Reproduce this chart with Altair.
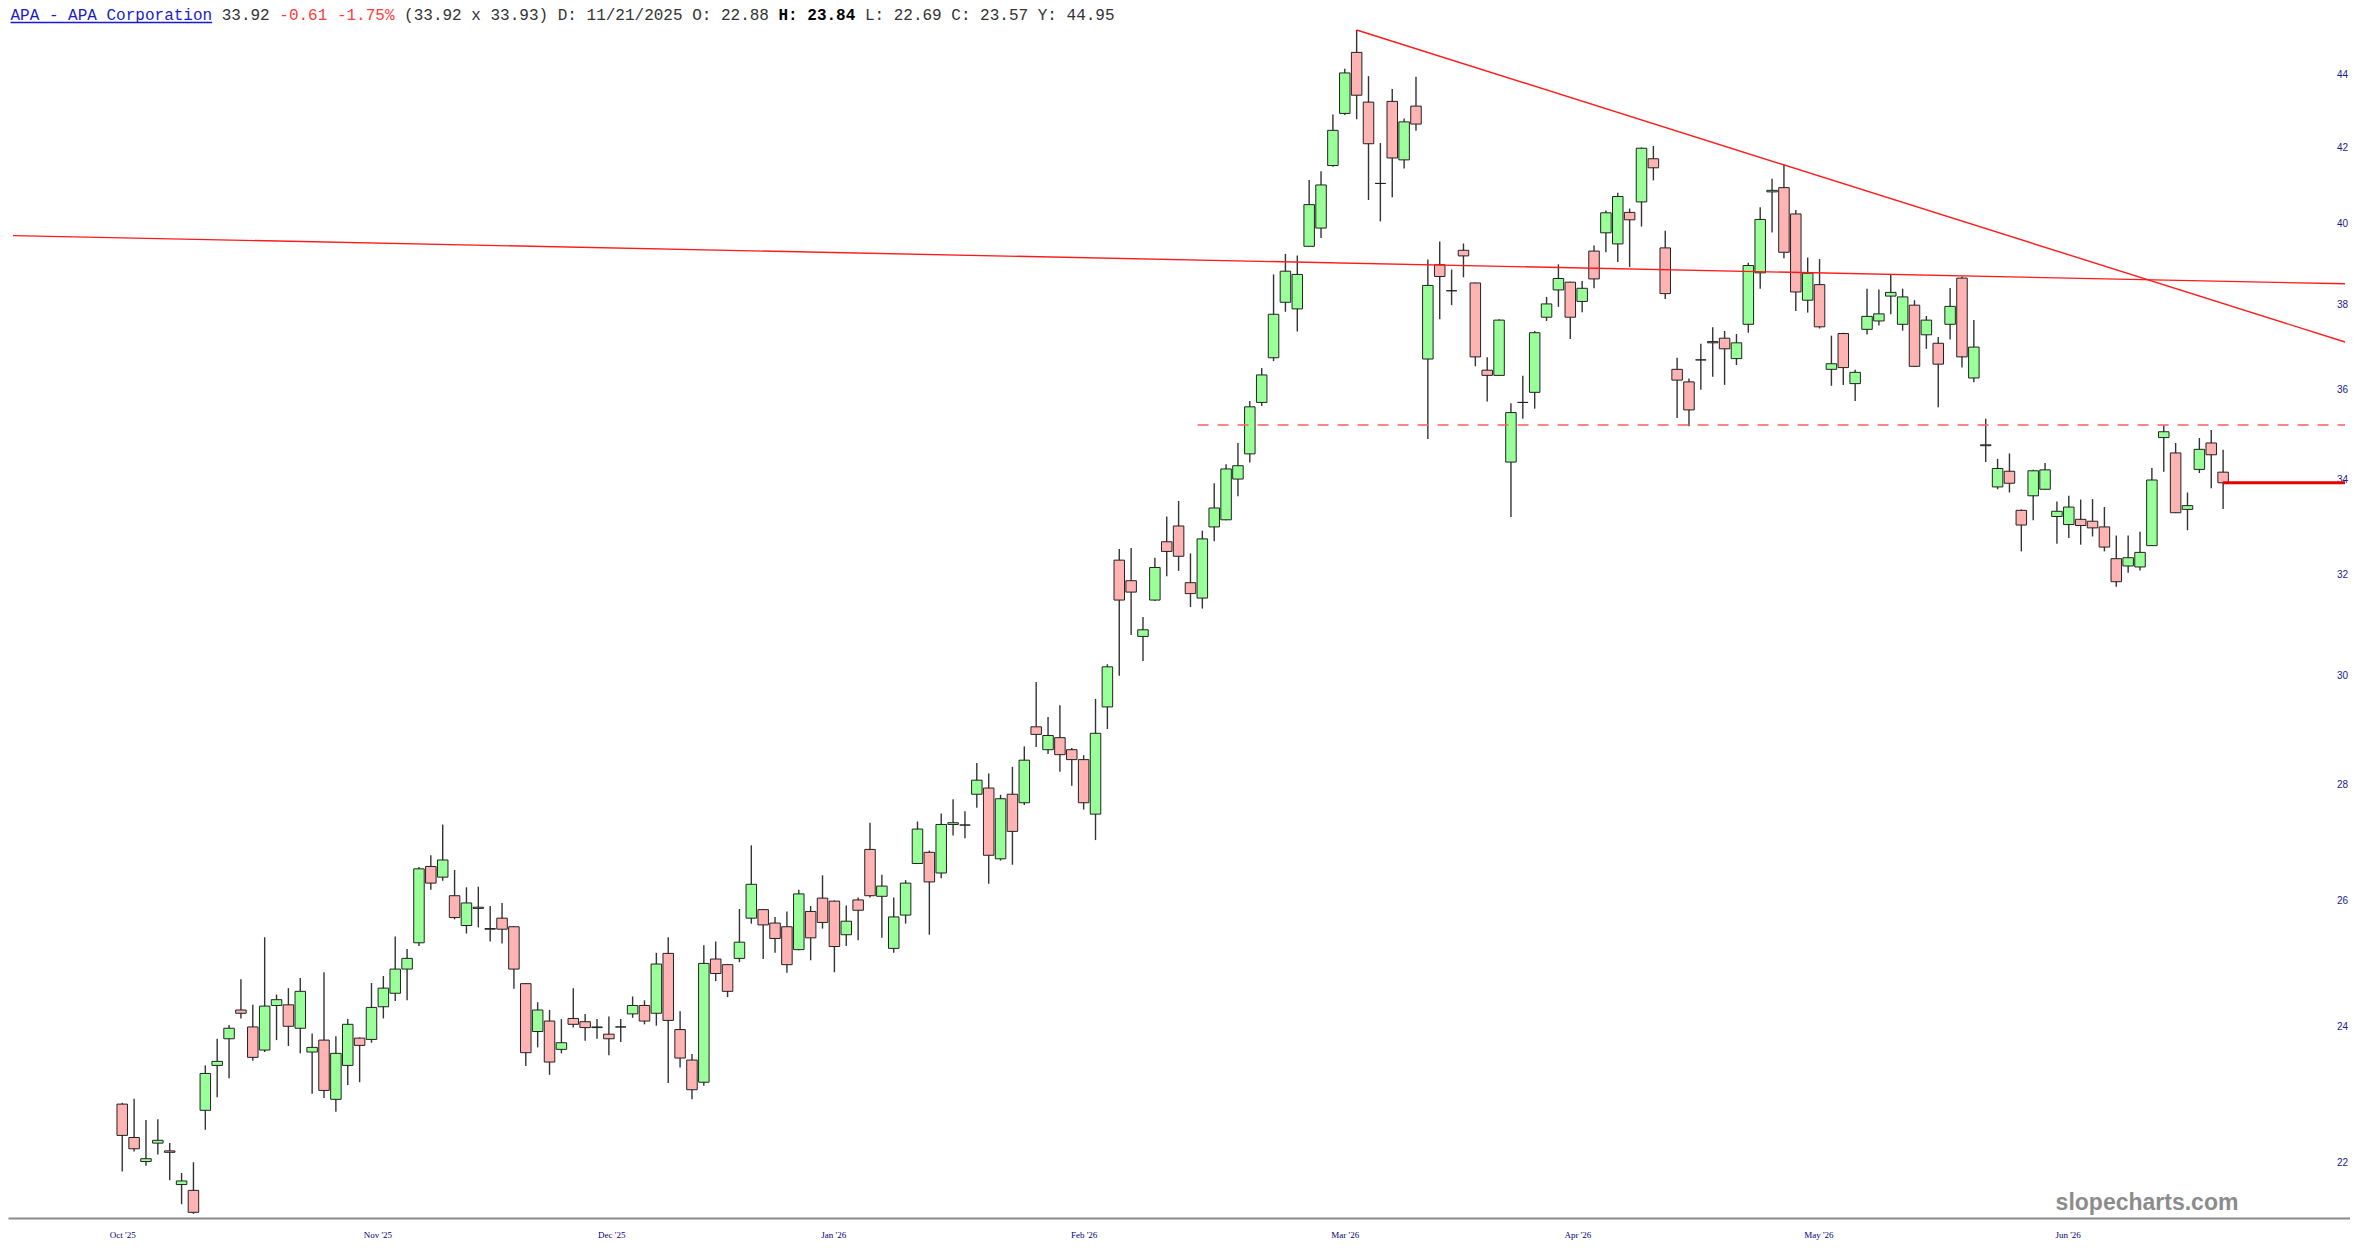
import altair as alt
import pandas as pd

# ---------------- data ----------------
opens = [22.84, 22.36, 22.02, 22.28, 22.17, 21.70, 21.62, 22.75, 23.41, 23.81,
         24.25, 23.99, 23.64, 24.32, 24.33, 23.97, 23.61, 23.79, 22.91, 23.41,
         23.82, 23.80, 24.30, 24.51, 24.89, 25.31, 26.57, 26.39, 26.08, 25.59,
         25.87, 25.53, 25.71, 25.57, 24.66, 23.92, 24.08, 23.65, 24.12, 24.07,
         23.99, 23.88, 23.99, 24.19, 24.32, 24.20, 25.14, 23.95, 23.49, 23.16,
         25.05, 24.96, 25.06, 25.71, 25.85, 25.63, 25.57, 25.20, 25.82, 26.04,
         25.99, 25.44, 26.01, 26.86, 26.07, 25.22, 25.76, 26.62, 26.81, 26.46,
         27.29, 27.28, 27.82, 27.93, 26.70, 27.82, 27.67, 29.04, 28.62, 28.84,
         28.62, 28.44, 27.47, 29.41, 32.29, 31.87, 30.76, 31.48, 32.67, 33.00,
         31.83, 31.52, 32.98, 33.13, 34.00, 34.55, 35.70, 36.73, 38.05, 37.89,
         39.43, 39.89, 41.51, 42.91, 44.61, 43.22, 41.04, 43.24, 41.66, 43.11,
         36.70, 38.97, 38.33, 39.33, 38.52, 36.44, 36.32, 34.37, 35.70, 35.93,
         37.69, 38.35, 38.54, 38.07, 39.31, 39.77, 39.49, 40.29, 40.56, 41.69,
         39.39, 36.46, 36.17, 36.68, 37.11, 37.19, 36.71, 37.52, 38.77, 40.82,
         40.93, 40.25, 38.10, 38.48, 36.46, 37.30, 36.13, 37.40, 37.60, 38.20,
         37.52, 37.98, 37.27, 37.07, 37.52, 38.64, 36.26, 34.73, 33.83, 34.17,
         33.33, 33.64, 33.78, 33.20, 33.03, 33.14, 33.10, 32.98, 32.32, 32.17,
         32.15, 32.59, 34.91, 34.57, 33.35, 34.21, 34.79, 34.15]
highs = [22.86, 22.92, 22.61, 22.62, 22.28, 21.86, 22.01, 23.41, 23.81, 24.02,
         24.73, 24.33, 25.40, 24.49, 24.59, 24.75, 23.89, 24.84, 23.85, 24.11,
         23.83, 24.67, 24.78, 25.41, 25.21, 26.56, 26.76, 27.29, 26.51, 26.22,
         26.23, 25.91, 25.96, 25.58, 24.67, 24.37, 24.25, 24.11, 24.59, 24.19,
         24.11, 24.15, 24.11, 24.46, 24.40, 25.15, 25.40, 24.23, 23.58, 25.27,
         25.33, 24.97, 25.86, 26.93, 25.86, 25.73, 25.82, 26.18, 25.91, 26.42,
         26.00, 25.92, 26.05, 27.32, 26.43, 26.05, 26.34, 27.34, 26.84, 27.48,
         27.73, 27.52, 28.38, 28.19, 27.81, 28.31, 28.68, 29.88, 29.22, 29.44,
         28.65, 28.52, 29.56, 30.22, 32.52, 32.54, 31.14, 32.34, 33.20, 33.53,
         32.43, 32.90, 33.91, 34.32, 34.79, 35.73, 36.49, 38.73, 39.24, 39.20,
         41.13, 41.36, 42.88, 44.15, 45.25, 43.94, 42.11, 43.58, 42.77, 43.92,
         39.10, 39.55, 38.85, 39.50, 38.53, 36.74, 37.64, 35.68, 36.31, 37.36,
         38.18, 38.98, 38.55, 38.57, 39.45, 40.34, 40.80, 40.39, 41.99, 42.03,
         39.82, 36.73, 36.25, 37.06, 37.45, 37.36, 37.29, 39.02, 40.42, 41.16,
         41.54, 40.35, 39.15, 39.11, 37.25, 37.32, 36.45, 38.38, 38.36, 38.74,
         38.38, 38.10, 37.72, 37.22, 38.40, 38.68, 37.62, 35.33, 34.44, 34.56,
         33.35, 34.20, 34.35, 33.52, 33.64, 33.56, 33.57, 33.40, 32.80, 32.80,
         32.88, 34.24, 35.18, 34.79, 33.71, 34.90, 35.08, 34.64]
lows = [21.88, 22.16, 21.96, 22.12, 21.76, 21.43, 21.30, 22.47, 22.94, 23.22,
        24.12, 23.48, 23.61, 23.79, 23.70, 23.59, 22.99, 22.93, 22.73, 23.12,
        23.16, 23.75, 24.12, 24.39, 24.40, 25.26, 26.18, 26.33, 25.69, 25.46,
        25.56, 25.33, 25.30, 24.58, 23.40, 23.68, 23.27, 23.59, 23.98, 23.78,
        23.81, 23.56, 23.76, 24.13, 24.03, 24.01, 23.15, 23.38, 22.91, 23.11,
        24.70, 24.45, 25.00, 25.62, 25.05, 25.15, 24.83, 25.19, 25.03, 25.54,
        24.84, 25.26, 25.35, 26.05, 25.39, 25.15, 25.62, 26.61, 25.44, 26.37,
        27.10, 27.05, 27.58, 26.28, 26.67, 26.60, 27.63, 28.67, 28.54, 28.22,
        27.97, 27.55, 27.02, 29.00, 30.00, 30.79, 30.28, 31.46, 31.96, 32.07,
        31.34, 31.31, 32.68, 33.12, 33.63, 34.36, 35.62, 36.65, 37.82, 37.35,
        39.42, 39.64, 41.48, 42.87, 42.75, 40.61, 40.06, 40.68, 41.43, 42.44,
        34.88, 37.64, 37.98, 38.66, 36.53, 35.72, 36.31, 33.19, 35.33, 35.56,
        37.60, 37.94, 37.17, 37.81, 38.39, 39.28, 39.04, 38.91, 39.93, 41.12,
        38.13, 35.35, 35.16, 35.99, 36.29, 36.10, 36.56, 37.32, 38.38, 39.78,
        39.13, 37.84, 37.80, 37.42, 36.08, 36.10, 35.73, 37.28, 37.49, 37.76,
        37.37, 36.52, 36.94, 35.59, 37.16, 36.50, 36.16, 34.37, 33.78, 33.71,
        32.47, 33.12, 33.77, 32.63, 32.75, 32.61, 32.78, 32.47, 31.75, 32.03,
        32.08, 32.58, 34.16, 33.27, 32.91, 34.13, 33.80, 33.36]
closes = [22.39, 22.20, 22.06, 22.32, 22.15, 21.75, 21.32, 23.29, 23.47, 23.97,
          24.20, 23.53, 24.31, 24.41, 24.00, 24.54, 23.68, 23.04, 23.59, 24.03,
          23.71, 24.29, 24.59, 24.89, 25.06, 26.53, 26.29, 26.68, 25.72, 25.96,
          25.89, 25.54, 25.53, 24.89, 23.60, 24.25, 23.46, 23.75, 24.03, 23.98,
          23.98, 23.81, 23.99, 24.32, 24.08, 24.97, 24.09, 23.52, 23.05, 24.98,
          24.82, 24.54, 25.32, 26.27, 25.60, 25.38, 24.96, 26.11, 25.39, 25.64,
          25.25, 25.66, 25.84, 26.08, 26.24, 25.73, 26.29, 27.21, 26.31, 27.29,
          27.32, 27.28, 28.07, 26.76, 27.74, 27.17, 28.43, 28.90, 28.88, 28.53,
          28.44, 27.67, 28.92, 30.17, 31.48, 31.64, 30.89, 32.14, 32.47, 32.37,
          31.61, 32.73, 33.38, 34.22, 34.29, 35.60, 36.33, 37.76, 38.81, 38.73,
          40.49, 41.00, 42.45, 44.03, 43.41, 42.09, 41.04, 41.71, 42.68, 42.62,
          38.46, 38.68, 38.33, 39.19, 36.75, 36.32, 37.62, 35.47, 35.70, 37.32,
          38.01, 38.63, 37.69, 38.39, 38.62, 40.28, 40.70, 40.10, 41.97, 41.45,
          38.26, 36.21, 35.53, 36.68, 37.08, 36.94, 37.08, 38.95, 40.11, 40.86,
          39.28, 38.30, 38.76, 37.46, 36.59, 36.50, 36.39, 37.71, 37.77, 38.29,
          38.18, 36.53, 37.62, 36.58, 37.95, 36.75, 36.98, 34.75, 34.23, 33.91,
          33.02, 34.18, 34.20, 33.31, 33.40, 33.01, 32.96, 32.56, 31.85, 32.34,
          32.45, 33.98, 35.04, 33.28, 33.43, 34.65, 34.53, 33.92]

month_ticks = [0, 21.5, 41.2, 59.9, 81.0, 103.0, 122.6, 142.9, 163.9]
month_labels = ["Oct '25", "Nov '25", "Dec '25", "Jan '26", "Feb '26",
                "Mar '26", "Apr '26", "May '26", "Jun '26"]
price_ticks = [22, 24, 26, 28, 30, 32, 34, 36, 38, 40, 42, 44]

# drawn lines: (candle index, price)
resist_i = [-9.203, 187.27]
resist_p = [39.70, 38.50]
down_i = [104, 187.27]
down_p = [45.25, 37.10]
support_i = [90.6, 187.27]
support_p = [35.19, 35.19]
last_i = [177, 187.27]
last_p = [33.92, 33.92]

header_segments = [
    ("APA - APA Corporation", "#1a1acc", "normal"),
    (" 33.92 ", "#333333", "normal"),
    ("-0.61 -1.75%", "#ff3b3b", "normal"),
    (" (33.92 x 33.93) D: 11/21/2025 O: 22.88 ", "#333333", "normal"),
    ("H: 23.84", "#000000", "bold"),
    (" L: 22.69 C: 23.57 Y: 44.95", "#333333", "normal"),
]

# ---------------- chart ----------------
TOP = 10
W, H = 2342, 1200
X_DOM = [-9.203, 187.27]
Y_DOM = [21.243, 45.597]

candles = pd.DataFrame({"i": list(range(len(opens))), "open": opens, "high": highs,
                        "low": lows, "close": closes})
candles["dir"] = ["up" if c >= o else "down" for o, c in zip(opens, closes)]

xs = alt.Scale(domain=X_DOM, nice=False, zero=False)
ys = alt.Scale(type="log", domain=Y_DOM, nice=False, zero=False)

label_expr = ("[" + ",".join('"' + l + '"' for l in month_labels) + "][indexof(["
              + ",".join(f"{v:g}" for v in month_ticks) + "], datum.value)]")

xaxis = alt.Axis(values=month_ticks, labelExpr=label_expr, title=None, grid=False,
                 ticks=False, tickSize=0, domainColor="#8a8a8a", domainWidth=2,
                 labelColor="#00007a", labelFont="Liberation Serif", labelFontSize=9,
                 labelPadding=16, labelBaseline="middle", labelFlush=False,
                 labelOverlap=False)
yaxis = alt.Axis(values=price_ticks, orient="right", offset=-8, title=None, grid=False,
                 ticks=False, tickSize=0, domain=False, labelColor="#1a1a8a",
                 labelFont="Liberation Sans", labelFontSize=10, labelAlign="center",
                 labelPadding=0, labelBaseline="middle", labelOverlap=False,
                 labelFlush=False, format="d")

wicks = alt.Chart(candles).mark_rule(color="#333333", strokeWidth=1.4).encode(
    x=alt.X("i:Q", scale=xs, axis=xaxis),
    y=alt.Y("low:Q", scale=ys, axis=yaxis),
    y2="high:Q",
)
bodies = alt.Chart(candles).mark_bar(size=10.5, stroke="#222222", strokeWidth=1).encode(
    x=alt.X("i:Q", scale=xs, axis=xaxis),
    y=alt.Y("open:Q", scale=ys, axis=yaxis),
    y2="close:Q",
    color=alt.Color("dir:N", scale=alt.Scale(domain=["up", "down"],
                                              range=["#99ff99", "#ffb3b3"]), legend=None),
)


def line_layer(ii, pp, **kw):
    d = pd.DataFrame({"i": ii, "low": pp})
    return alt.Chart(d).mark_line(clip=True, **kw).encode(
        x=alt.X("i:Q", scale=xs, axis=xaxis),
        y=alt.Y("low:Q", scale=ys, axis=yaxis),
    )


resist = line_layer(resist_i, resist_p, color="#ff1a1a", strokeWidth=1.4)
down = line_layer(down_i, down_p, color="#ff1a1a", strokeWidth=1.4)
support = line_layer(support_i, support_p, color="#ff5c5c", strokeWidth=1.5,
                     strokeDash=[11, 9])
lastline = line_layer(last_i, last_p, color="#e60000", strokeWidth=3)

one = pd.DataFrame({"k": [0]})
CHAR = 9.6
X0 = 2.5
BASE = 19.5 - 8 - TOP   # header baseline (page y ~19.5) in plot coordinates
texts = []
pos = 0
for seg, col, wt in header_segments:
    stripped = seg.strip()
    lead = len(seg) - len(seg.lstrip())
    texts.append(alt.Chart(one).mark_text(
        align="left", baseline="alphabetic", font="Liberation Mono", fontSize=16,
        fontWeight=wt, color=col
    ).encode(x=alt.value(X0 + (pos + lead) * CHAR), y=alt.value(BASE), text=alt.value(stripped)))
    pos += len(seg)

underline = alt.Chart(one).mark_rule(color="#1a1acc", strokeWidth=1.3).encode(
    x=alt.value(X0), x2=alt.value(X0 + len(header_segments[0][0]) * CHAR),
    y=alt.value(BASE + 3))

watermark = alt.Chart(one).mark_text(
    align="center", baseline="middle", font="Liberation Sans", fontSize=23,
    fontWeight="bold", color="#8c8c8c"
).encode(x=alt.value(2139), y=alt.value(1203 - 8 - TOP), text=alt.value("slopecharts.com"))

chart = alt.layer(
    wicks, bodies, resist, down, support, lastline, underline, watermark, *texts
).resolve_scale(x="shared", y="shared").properties(
    width=W, height=H,
    autosize=alt.AutoSizeParams(type="none"),
    padding={"left": 0, "top": TOP, "right": 0, "bottom": 26},
    background="white",
).configure_view(strokeWidth=0)

chart.save("out.html", embed_options={"renderer": "svg", "actions": False})
